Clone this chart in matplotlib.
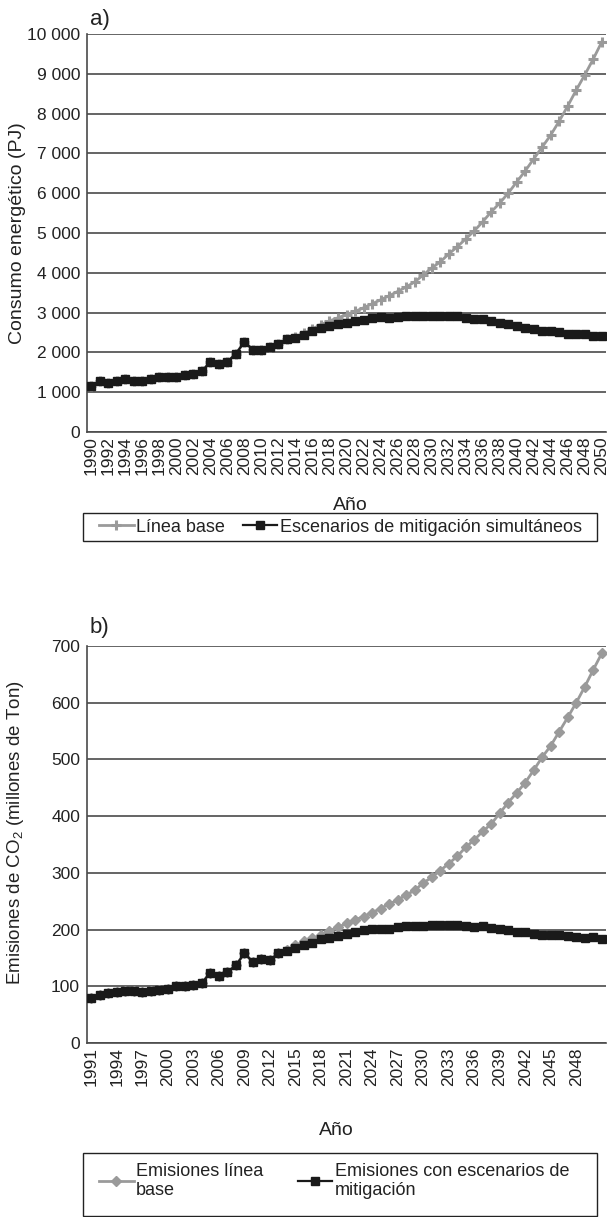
import matplotlib
matplotlib.use("Agg")
import matplotlib.pyplot as plt
from matplotlib.patches import Rectangle

plt.rcParams['font.family'] = ['Liberation Sans', 'DejaVu Sans']
plt.rcParams['mathtext.fontset'] = 'custom'
plt.rcParams['mathtext.rm'] = 'Liberation Sans'
plt.rcParams['mathtext.it'] = 'Liberation Sans:italic'

# ---------------- data: panel a (energy, PJ) ----------------
years_a = list(range(1990, 2051))
energia_mitigacion = [1150, 1270, 1220, 1280, 1330, 1270, 1270, 1320, 1370, 1370,
                      1390, 1440, 1450, 1530, 1760, 1700, 1760, 1970, 2260, 2070,
                      2070, 2130, 2200, 2330, 2370, 2440, 2540, 2620, 2670, 2710,
                      2740, 2780, 2820, 2860, 2890, 2870, 2890, 2910, 2920, 2920,
                      2920, 2920, 2920, 2910, 2870, 2840, 2840, 2790, 2740, 2710,
                      2660, 2620, 2590, 2550, 2540, 2520, 2470, 2470, 2460, 2410,
                      2410]
energia_base = [1150, 1270, 1220, 1280, 1330, 1270, 1270, 1320, 1370, 1370,
                1390, 1440, 1450, 1530, 1760, 1700, 1760, 1970, 2260, 2070,
                2070, 2130, 2200, 2330, 2390, 2480, 2590, 2700, 2790, 2870,
                2950, 3030, 3120, 3220, 3320, 3420, 3530, 3640, 3770, 3940,
                4120, 4270, 4470, 4650, 4850, 5050, 5280, 5530, 5750, 6000,
                6280, 6560, 6860, 7160, 7460, 7810, 8190, 8590, 8970, 9370,
                9800]
yticks_a = [0, 1000, 2000, 3000, 4000, 5000, 6000, 7000, 8000, 9000, 10000]
yticklabels_a = ['0', '1 000', '2 000', '3 000', '4 000', '5 000', '6 000',
                 '7 000', '8 000', '9 000', '10 000']

# ---------------- data: panel b (CO2, millions t) ----------------
years_b = list(range(1991, 2052))
co2_mitigacion = [80, 85, 88, 90, 92, 92, 90, 92, 94, 96,
                  100, 100, 103, 106, 124, 118, 125, 137, 158, 143,
                  148, 146, 158, 162, 168, 172, 177, 183, 186, 189,
                  193, 196, 199, 201, 201, 201, 205, 206, 206, 207,
                  208, 208, 208, 208, 207, 205, 206, 203, 201, 199,
                  196, 196, 193, 191, 191, 191, 188, 187, 186, 187,
                  183]
co2_base = [80, 85, 88, 90, 92, 92, 90, 92, 94, 96,
            100, 100, 103, 106, 124, 118, 125, 137, 158, 143,
            148, 146, 159, 164, 172, 179, 185, 190, 198, 204,
            211, 217, 223, 230, 237, 245, 252, 261, 269, 282,
            292, 304, 316, 329, 345, 358, 373, 386, 405, 424,
            441, 459, 481, 504, 524, 549, 574, 600, 628, 658,
            687]
yticks_b = [0, 100, 200, 300, 400, 500, 600, 700]

GRAY = '#9a9a9a'
BLACK = '#1a1a1a'
GRID = '#4a4a4a'
TXT = '#222222'

W, H = 608, 1217
fig = plt.figure(figsize=(W / 100, H / 100), dpi=100)

def fx(px):
    return px / W

def fy(py):
    return 1 - py / H

L, R = 87, 606
ax_a = fig.add_axes([fx(L), fy(432), fx(R) - fx(L), fy(34) - fy(432)])
ax_b = fig.add_axes([fx(L), fy(1043), fx(R) - fx(L), fy(646) - fy(1043)])

def style(ax):
    for s in ['top', 'right']:
        ax.spines[s].set_visible(False)
    for s in ['left', 'bottom']:
        ax.spines[s].set_color(GRID)
        ax.spines[s].set_linewidth(1.2)
    ax.yaxis.grid(True, color=GRID, linewidth=1.2)
    ax.set_axisbelow(True)
    ax.tick_params(axis='both', length=0, colors=TXT)
    ax.tick_params(axis='y', labelsize=12.5, pad=5)
    ax.tick_params(axis='x', labelsize=12.5, pad=3)

def frame(x0, y0, x1, y1):
    fig.patches.append(Rectangle((fx(x0), fy(y1)), fx(x1) - fx(x0), fy(y0) - fy(y1),
                                 transform=fig.transFigure, fill=False,
                                 edgecolor='#222222', linewidth=1.0))

# ---- panel a ----
xa = list(range(len(years_a)))
ha_base, = ax_a.plot(xa, energia_base, color=GRAY, lw=2.0, marker='+',
                     ms=7, mew=2.2, label='Línea base', zorder=2)
ha_mit, = ax_a.plot(xa, energia_mitigacion, color=BLACK, lw=1.6, marker='s',
                    ms=5.5, label='Escenarios de mitigación simultáneos', zorder=3)
ax_a.set_xlim(-0.5, len(years_a) - 0.5)
ax_a.set_ylim(0, 10000)
ax_a.set_yticks(yticks_a)
ax_a.set_yticklabels(yticklabels_a)
ax_a.set_xticks(xa[::2])
ax_a.set_xticklabels([str(y) for y in years_a[::2]], rotation=90)
style(ax_a)
ax_a.set_ylabel('Consumo energético (PJ)', fontsize=14, color=TXT)
ax_a.yaxis.set_label_coords(fx(26), fy(233), transform=fig.transFigure)
ax_a.set_xlabel('Año', fontsize=14, color=TXT)
ax_a.xaxis.set_label_coords(fx(350), fy(497), transform=fig.transFigure)
fig.text(fx(90), fy(20), 'a)', fontsize=16, color=TXT, va='center', ha='left')

frame(83, 513, 597, 541)
leg_a = fig.legend(handles=[ha_base, ha_mit], loc='center left',
                   bbox_to_anchor=(fx(92), fy(527)),
                   ncol=2, frameon=False, fontsize=13, handlelength=1.9,
                   handletextpad=0.15, borderaxespad=0, borderpad=0.4,
                   columnspacing=1.0)
for t in leg_a.get_texts():
    t.set_color(TXT)

# ---- panel b ----
xb = list(range(len(years_b)))
hb_base, = ax_b.plot(xb, co2_base, color=GRAY, lw=2.0, marker='D',
                     ms=5, label='Emisiones línea\nbase', zorder=2)
hb_mit, = ax_b.plot(xb, co2_mitigacion, color=BLACK, lw=1.6, marker='s',
                    ms=5.5, label='Emisiones con escenarios de\nmitigación', zorder=3)
ax_b.set_xlim(-0.5, len(years_b) - 0.5)
ax_b.set_ylim(0, 700)
ax_b.set_yticks(yticks_b)
ax_b.set_yticklabels([str(v) for v in yticks_b])
ax_b.set_xticks(xb[:58:3])
ax_b.set_xticklabels([str(y) for y in years_b[:58:3]], rotation=90)
style(ax_b)
ax_b.set_ylabel('Emisiones de CO$_2$ (millones de Ton)', fontsize=13.5, color=TXT)
ax_b.yaxis.set_label_coords(fx(26), fy(833), transform=fig.transFigure)
ax_b.set_xlabel('Año', fontsize=14, color=TXT)
ax_b.xaxis.set_label_coords(fx(336), fy(1122), transform=fig.transFigure)
fig.text(fx(90), fy(628), 'b)', fontsize=16, color=TXT, va='center', ha='left')

frame(83, 1153, 597, 1216)
leg_b = fig.legend(handles=[hb_base, hb_mit], loc='center left',
                   bbox_to_anchor=(fx(92), fy(1181)),
                   ncol=2, frameon=False, fontsize=13, handlelength=1.9,
                   handletextpad=0.15, borderaxespad=0, borderpad=0.4,
                   columnspacing=1.9, labelspacing=0.3)
for t in leg_b.get_texts():
    t.set_color(TXT)

fig.savefig('out.png', dpi=100)
